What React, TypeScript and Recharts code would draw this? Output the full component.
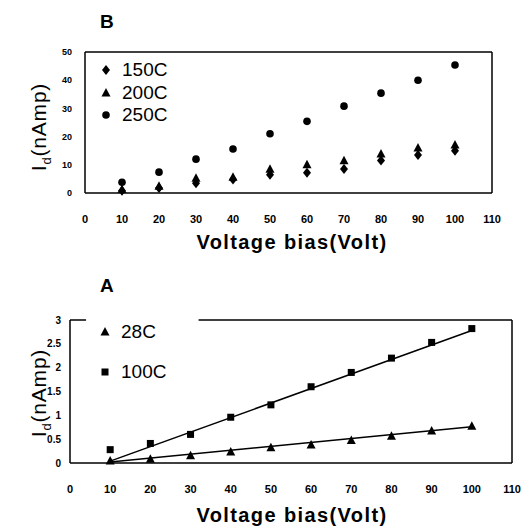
import { ScatterChart, Scatter, XAxis, YAxis, ReferenceLine, Legend } from 'recharts';

// bias voltage (V) where current was measured
const voltage = [10, 20, 30, 40, 50, 60, 70, 80, 90, 100];
const xTicks = [0, 10, 20, 30, 40, 50, 60, 70, 80, 90, 100, 110];

// panel B: dark current (nA)
const bNames = ['150C', '200C', '250C'];
const bTicks = [0, 10, 20, 30, 40, 50];
const id150 = [0.8, 1.8, 3.5, 4.8, 6.5, 7.2, 8.5, 11.5, 13.5, 15];
const id200 = [1.2, 2.4, 5.2, 5.6, 8.4, 10, 11.4, 13.8, 16, 17];
const id250 = [3.8, 7.4, 12, 15.6, 21, 25.4, 30.8, 35.4, 40, 45.4];

// panel A: dark current (nA) and fitted lines
const aNames = ['28C', '100C'];
const aTicks = [0, 0.5, 1, 1.5, 2, 2.5, 3];
const id28 = [0.04, 0.08, 0.15, 0.23, 0.32, 0.38, 0.47, 0.56, 0.67, 0.77];
const id100 = [0.28, 0.41, 0.6, 0.96, 1.22, 1.6, 1.9, 2.2, 2.53, 2.82];
const fitX = [10, 100];
const fit28 = [0.02, 0.76];
const fit100 = [0.04, 2.78];

const pts = (xs: number[], ys: number[]) => xs.map((x, i) => ({ x, y: ys[i] }));

const FONT = '"Liberation Sans", Arial, sans-serif';

const Diamond = ({ cx, cy }: any) => (
  <polygon points={`${cx},${cy - 5} ${cx + 4},${cy} ${cx},${cy + 5} ${cx - 4},${cy}`} fill="#000" />
);
const Triangle = ({ cx, cy }: any) => (
  <polygon points={`${cx},${cy - 5} ${cx + 4.5},${cy + 3.5} ${cx - 4.5},${cy + 3.5}`} fill="#000" />
);
const Dot = ({ cx, cy }: any) => <circle cx={cx} cy={cy} r={3.8} fill="#000" />;
const Square = ({ cx, cy }: any) => <rect x={cx - 3.5} y={cy - 3.5} width={7} height={7} fill="#000" />;
const NoDot = () => <g />;

const shapes: Record<string, any> = { diamond: Diamond, triangle: Triangle, circle: Dot, square: Square };

const makeLegend = (order: string[], rowGap: number) => ({ payload }: any) => (
  <div>
    {(payload || [])
      .filter((p: any) => order.includes(p.value))
      .sort((a: any, b: any) => order.indexOf(a.value) - order.indexOf(b.value))
      .map((p: any) => {
        const S = shapes[p.type];
        return (
          <div key={p.value} style={{ display: 'flex', alignItems: 'center', height: rowGap }}>
            <svg width={20} height={14}>
              <S cx={10} cy={7} />
            </svg>
            <span style={{ fontFamily: FONT, fontSize: 19, color: '#000', marginLeft: 6 }}>{p.value}</span>
          </div>
        );
      })}
  </div>
);

const tickX = { fontFamily: FONT, fontSize: 11, fontWeight: 700, fill: '#000' };
const tickY = { fontFamily: FONT, fontSize: 9, fontWeight: 700, fill: '#000' };

const YTitle = ({ x, y }: { x: number; y: number }) => (
  <text
    transform={`translate(${x},${y}) rotate(-90)`}
    textAnchor="middle"
    fontFamily={FONT}
    fontSize={21}
    letterSpacing={0.8}
    fill="#000"
  >
    I<tspan fontSize={13} dy={5}>d</tspan>
    <tspan dy={-5}>(nAmp)</tspan>
  </text>
);

const XTitle = ({ y }: { y: number }) => (
  <text x={292} y={y} textAnchor="middle" fontFamily={FONT} fontSize={20} fontWeight={700} letterSpacing={1.4} fill="#000">
    Voltage bias(Volt)
  </text>
);

export default function App() {
  return (
    <div style={{ position: 'absolute', left: 0, top: 0, width: 531, height: 528, background: '#fff' }}>
      {/* panel B */}
      <div style={{ position: 'absolute', left: 0, top: 0 }}>
        <ScatterChart width={531} height={230} margin={{ top: 52, right: 39, left: 0, bottom: 0 }}>
          <XAxis
            type="number"
            dataKey="x"
            domain={[0, 110]}
            ticks={xTicks}
            interval={0}
            tickLine={false}
            tickMargin={16}
            height={37}
            stroke="#000"
            strokeWidth={1.5}
            tick={tickX}
          />
          <YAxis
            type="number"
            dataKey="y"
            domain={[0, 50]}
            ticks={bTicks}
            interval={0}
            tickLine={false}
            tickMargin={7}
            width={85}
            stroke="#000"
            strokeWidth={1.5}
            tick={tickY}
          />
          <ReferenceLine y={50} stroke="#000" strokeWidth={1.5} />
          <ReferenceLine x={110} stroke="#000" strokeWidth={1.5} />
          <Legend
            layout="vertical"
            align="center"
            verticalAlign="middle"
            wrapperStyle={{ left: 96, top: 59, width: 'auto' }}
            content={makeLegend(bNames, 22.5)}
          />
          <Scatter name={bNames[0]} legendType="diamond" data={pts(voltage, id150)} shape={Diamond} isAnimationActive={false} />
          <Scatter name={bNames[1]} legendType="triangle" data={pts(voltage, id200)} shape={Triangle} isAnimationActive={false} />
          <Scatter name={bNames[2]} legendType="circle" data={pts(voltage, id250)} shape={Dot} isAnimationActive={false} />
        </ScatterChart>
      </div>

      {/* panel A */}
      <div style={{ position: 'absolute', left: 0, top: 260 }}>
        <ScatterChart width={531} height={240} margin={{ top: 60, right: 19, left: 0, bottom: 0 }}>
          <XAxis
            type="number"
            dataKey="x"
            domain={[0, 110]}
            ticks={xTicks}
            interval={0}
            tickLine={false}
            tickMargin={16}
            height={37}
            stroke="#000"
            strokeWidth={1.5}
            tick={tickX}
          />
          <YAxis
            type="number"
            dataKey="y"
            domain={[0, 3]}
            ticks={aTicks}
            interval={0}
            tickLine={false}
            tickMargin={3}
            width={70}
            stroke="#000"
            strokeWidth={1.5}
            tick={{ ...tickY, fontSize: 10 }}
          />
          {/* top frame, broken where the legend sits */}
          <ReferenceLine segment={[{ x: 0, y: 3 }, { x: 4, y: 3 }]} stroke="#000" strokeWidth={1.5} />
          <ReferenceLine segment={[{ x: 32, y: 3 }, { x: 110, y: 3 }]} stroke="#000" strokeWidth={1.5} />
          <ReferenceLine x={110} stroke="#000" strokeWidth={1.5} />
          <Scatter data={pts(fitX, fit100)} line={{ stroke: '#000', strokeWidth: 1.5 }} shape={NoDot} legendType="none" isAnimationActive={false} />
          <Scatter data={pts(fitX, fit28)} line={{ stroke: '#000', strokeWidth: 1.5 }} shape={NoDot} legendType="none" isAnimationActive={false} />
          <Legend
            layout="vertical"
            align="center"
            verticalAlign="middle"
            wrapperStyle={{ left: 95, top: 52, width: 'auto' }}
            content={makeLegend(aNames, 40)}
          />
          <Scatter name={aNames[0]} legendType="triangle" data={pts(voltage, id28)} shape={Triangle} isAnimationActive={false} />
          <Scatter name={aNames[1]} legendType="square" data={pts(voltage, id100)} shape={Square} isAnimationActive={false} />
        </ScatterChart>
      </div>

      {/* panel letters and axis titles */}
      <svg width={531} height={528} style={{ position: 'absolute', left: 0, top: 0, pointerEvents: 'none' }}>
        <text x={100} y={28} fontFamily={FONT} fontSize={19} fontWeight={700} fill="#000">B</text>
        <text x={100} y={292} fontFamily={FONT} fontSize={19} fontWeight={700} fill="#000">A</text>
        <YTitle x={46} y={127} />
        <YTitle x={46} y={393} />
        <XTitle y={249} />
        <XTitle y={522} />
      </svg>
    </div>
  );
}
